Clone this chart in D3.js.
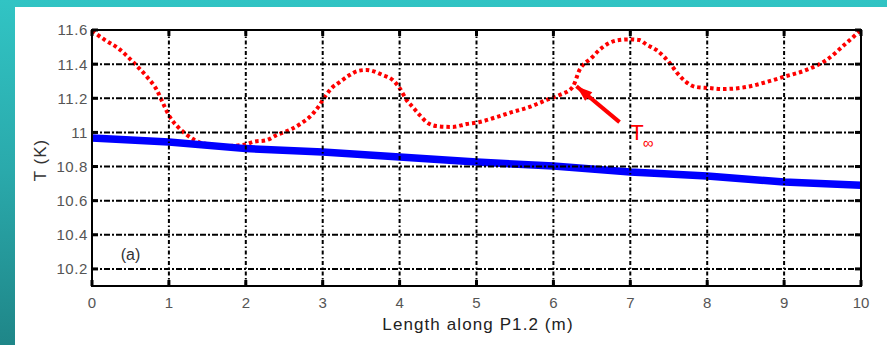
<!DOCTYPE html>
<html><head><meta charset="utf-8">
<script src="https://cdn.jsdelivr.net/npm/d3@7"></script>
<style>
html,body{margin:0;padding:0;}
body{width:887px;height:345px;overflow:hidden;background:linear-gradient(to bottom,#31c4c4 0%,#2aa9ab 50%,#1f8688 100%);}
svg{display:block;}
</style></head><body>
<svg id="chart" width="887" height="345"></svg>
<script>
// ---- data ----
const xTicks = [0,1,2,3,4,5,6,7,8,9,10];
const yTicks = [10.2,10.4,10.6,10.8,11,11.2,11.4,11.6];
const yTickLabels = ["10.2","10.4","10.6","10.8","11","11.2","11.4","11.6"];
// Pipe wall temperature (blue)
const blueX = [0,1,2,3,4,5,6,7,8,9,10];
const blueT = [10.967,10.944,10.905,10.885,10.856,10.826,10.803,10.768,10.744,10.709,10.69];
// Surrounding temperature T∞ (red)
const redX = [0,0.169,0.338,0.468,0.597,0.727,0.844,0.922,1.013,1.117,1.234,1.45,1.75,2.0,2.091,2.273,2.403,2.571,2.727,2.857,2.961,3.026,3.117,3.221,3.351,3.455,3.57,3.78,3.91,4.0,4.09,4.17,4.26,4.35,4.48,4.69,4.87,5.04,5.26,5.47,5.69,5.91,6.08,6.25,6.34,6.494,6.597,6.727,6.857,6.987,7.117,7.221,7.338,7.442,7.532,7.61,7.727,7.857,8.026,8.195,8.51,8.77,8.99,9.29,9.55,9.81,10];
const redT = [11.595,11.541,11.494,11.442,11.383,11.319,11.248,11.172,11.09,11.032,10.985,10.935,10.92,10.93,10.944,10.955,10.985,11.014,11.055,11.102,11.161,11.207,11.26,11.295,11.336,11.36,11.366,11.336,11.307,11.26,11.19,11.149,11.102,11.061,11.037,11.032,11.049,11.061,11.09,11.12,11.149,11.19,11.219,11.266,11.366,11.436,11.483,11.524,11.541,11.545,11.541,11.512,11.483,11.442,11.395,11.348,11.295,11.266,11.26,11.254,11.266,11.295,11.325,11.366,11.424,11.524,11.6];
const xTitle = "Length along P1.2 (m)";
const yTitle = "T (K)";
const panelLabel = "(a)";

// ---- layout ----
const svg = d3.select("#chart");
const L=92, R=861, T=30, B=286;
svg.append("rect").attr("x",15).attr("y",7).attr("width",872).attr("height",338).attr("fill","#fff");

const x = d3.scaleLinear().domain([0,10]).range([L,R]);
const y = d3.scaleLinear().domain([10.1,11.6]).range([B,T]);
const font = "'Liberation Sans', Arial, sans-serif";

// data
const blue = blueX.map((v,i)=>[v,blueT[i]]);
const red = redX.map((v,i)=>[v,redT[i]]);

svg.append("path").datum(red)
  .attr("d", d3.line().x(d=>x(d[0])).y(d=>y(d[1])).curve(d3.curveMonotoneX))
  .attr("fill","none").attr("stroke","#ff0000").attr("stroke-width",4)
  .attr("stroke-dasharray","3.5,3");

svg.append("path").datum(blue)
  .attr("d", d3.line().x(d=>x(d[0])).y(d=>y(d[1])))
  .attr("fill","none").attr("stroke","#0000ff").attr("stroke-width",7.5);

// grid (on top)
const g = svg.append("g");
g.selectAll(".vg").data(xTicks.slice(1,-1)).enter().append("line")
  .attr("x1",d=>x(d)).attr("x2",d=>x(d)).attr("y1",T).attr("y2",B)
  .attr("stroke","#000").attr("stroke-width",2).attr("stroke-dasharray","4,2.5,1.5,2.5");
g.selectAll(".hg").data(yTicks.slice(0,-1)).enter().append("line")
  .attr("y1",d=>y(d)).attr("y2",d=>y(d)).attr("x1",L).attr("x2",R)
  .attr("stroke","#000").attr("stroke-width",2).attr("stroke-dasharray","6,2,2,2");

// ticks (inside, all sides)
const tk=6;
g.selectAll(".tl").data(yTicks).enter().append("line")
  .attr("x1",L).attr("x2",L+tk).attr("y1",d=>y(d)).attr("y2",d=>y(d)).attr("stroke","#000").attr("stroke-width",3);
g.selectAll(".tr").data(yTicks).enter().append("line")
  .attr("x1",R-tk).attr("x2",R).attr("y1",d=>y(d)).attr("y2",d=>y(d)).attr("stroke","#000").attr("stroke-width",3);
g.selectAll(".tb").data(xTicks).enter().append("line")
  .attr("x1",d=>x(d)).attr("x2",d=>x(d)).attr("y1",B-tk).attr("y2",B).attr("stroke","#000").attr("stroke-width",3);
g.selectAll(".tt").data(xTicks).enter().append("line")
  .attr("x1",d=>x(d)).attr("x2",d=>x(d)).attr("y1",T).attr("y2",T+tk).attr("stroke","#000").attr("stroke-width",3);

// frame
svg.append("rect").attr("x",L).attr("y",T).attr("width",R-L).attr("height",B-T)
  .attr("fill","none").attr("stroke","#000").attr("stroke-width",2);

// tick labels
svg.selectAll(".yl").data(yTicks).enter().append("text")
  .attr("x",L-4).attr("y",d=>y(d)).attr("dy","0.36em").attr("text-anchor","end")
  .attr("font-family",font).attr("font-size",15).attr("letter-spacing",0.6).attr("fill","#555")
  .text((d,i)=>yTickLabels[i]);
svg.selectAll(".xl").data(xTicks).enter().append("text")
  .attr("x",d=>x(d)).attr("y",308).attr("text-anchor","middle")
  .attr("font-family",font).attr("font-size",15).attr("fill","#555")
  .text(d=>d);

// titles
svg.append("text").attr("x",478).attr("y",330).attr("text-anchor","middle")
  .attr("font-family",font).attr("font-size",17).attr("letter-spacing",1.1).attr("fill","#222")
  .text(xTitle);
svg.append("text").attr("transform","translate(46,160) rotate(-90)").attr("text-anchor","middle")
  .attr("font-family",font).attr("font-size",17).attr("letter-spacing",1).attr("fill","#333")
  .text(yTitle);
svg.append("text").attr("x",x(0.5)).attr("y",260).attr("text-anchor","middle")
  .attr("font-family",font).attr("font-size",16).attr("fill","#333")
  .text(panelLabel);

// annotation arrow
const ax0=x(6.30), ay0=y(11.27), ax1=x(6.86), ay1=y(11.06);
svg.append("line").attr("x1",ax0).attr("y1",ay0).attr("x2",ax1).attr("y2",ay1)
  .attr("stroke","#ff0000").attr("stroke-width",4);
const ang=Math.atan2(ay1-ay0,ax1-ax0);
const hl=16, hw=5.5;
const bx=ax0+hl*Math.cos(ang), by=ay0+hl*Math.sin(ang);
svg.append("path").attr("d",`M${ax0},${ay0}L${bx-hw*Math.sin(ang)},${by+hw*Math.cos(ang)}L${bx+hw*Math.sin(ang)},${by-hw*Math.cos(ang)}Z`)
  .attr("fill","#ff0000");
const lab = svg.append("text").attr("x",x(7.0)).attr("y",y(10.96)+1)
  .attr("font-family",font).attr("fill","#ff0000");
lab.append("tspan").attr("font-size",22).text("T");
lab.append("tspan").attr("font-size",15).attr("dy",8).attr("dx",-1).text("∞");
</script>
</body></html>
